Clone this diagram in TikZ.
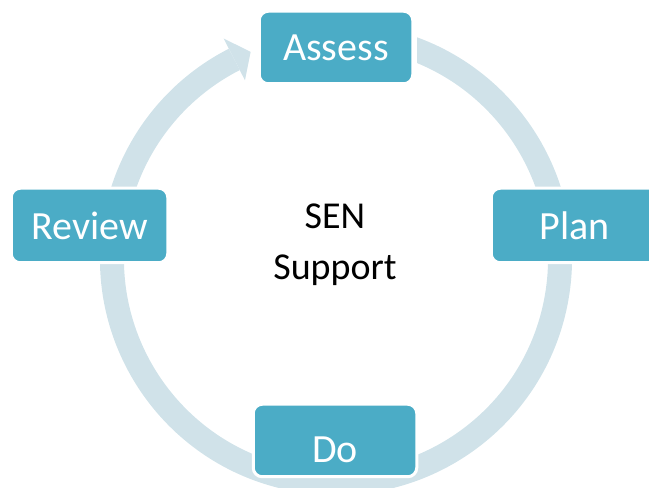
\documentclass[tikz,border=0pt]{standalone}
\usepackage{fontspec}
\setmainfont{Carlito}
\definecolor{boxblue}{HTML}{4BACC6}
\definecolor{ringblue}{RGB}{208,226,233}
\tikzset{
  stage/.style={fill=boxblue, draw=white, line width=3pt, rounded corners=9pt,
    inner sep=0pt, text=white, font=\fontsize{40}{48}\selectfont},
  ring/.style={draw=ringblue, line width=24pt},
}
\begin{document}
\begin{tikzpicture}[x=1pt,y=1pt]
\useasboundingbox (0,0) rectangle (649,488);
% ring with arrow
\begin{scope}
  \clip (-10,-10) -- (-10,500) -- (412,500) -- (412,388) -- (417,388) -- (417,500) -- (700,500) -- (700,-10) -- cycle;
  \begin{scope}[shift={(336,229)}]
    \draw[ring] (80:224) arc[start angle=80, end angle=-243, radius=224];
    \fill[ringblue] (-243:247.5) -- (-247.6:224) -- (-243:200.5) -- cycle;
  \end{scope}
\end{scope}
% stages
\node[stage, minimum width=153.5pt, minimum height=72.5pt] (assess) at (336,440.5) {Assess};
\node[stage, minimum width=167.5pt, minimum height=74.5pt] (plan) at (575,262.5) {Plan};
\node[stage, minimum width=163.5pt, minimum height=72.5pt] (do) at (335,47.5) {\raisebox{-22pt}[0pt][0pt]{Do}};
\node[stage, minimum width=156.5pt, minimum height=74.5pt] (review) at (89.5,262.5) {Review};
% centre
\node[align=center, font=\fontsize{38}{51}\selectfont] (centre) at (335,243) {SEN\\Support};
\end{tikzpicture}
\end{document}
